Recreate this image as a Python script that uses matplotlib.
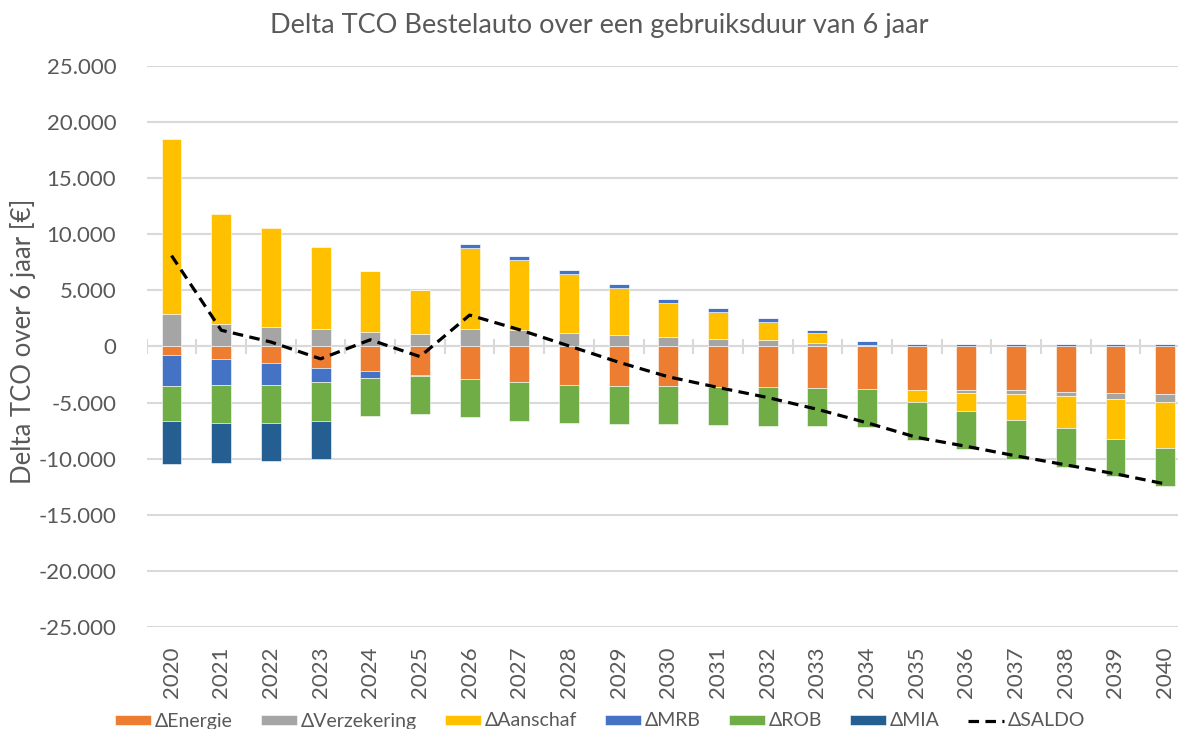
import numpy as np
import matplotlib
matplotlib.use('Agg')
import matplotlib.pyplot as plt
from matplotlib.ticker import FuncFormatter

plt.rcParams['font.family'] = ['Lato', 'DejaVu Sans']

years = [str(y) for y in range(2020, 2041)]

# Delta per kostenpost (EUR over 6 jaar)
energie = [-800, -1100, -1500, -1900, -2150, -2550, -2900, -3150, -3400, -3500, -3550,
           -3600, -3650, -3700, -3800, -3850, -3900, -3900, -4050, -4100, -4250]
verzekering = [2900, 2000, 1750, 1600, 1300, 1100, 1600, 1450, 1200, 1000, 850,
               700, 550, 300, 150, 0, -200, -350, -400, -550, -700]
aanschaf = [15600, 9850, 8850, 7300, 5450, 3950, 7150, 6250, 5250, 4200, 3050,
            2400, 1600, 900, 0, -1100, -1650, -2300, -2850, -3550, -4100]
mrb = [-2700, -2350, -1900, -1300, -700, -50, 400, 400, 400, 350, 350,
       300, 350, 300, 300, 200, 200, 200, 200, 200, 200]
rob = [-3100, -3350, -3400, -3400, -3350, -3450, -3400, -3450, -3400, -3400, -3400,
       -3400, -3450, -3400, -3400, -3350, -3400, -3450, -3450, -3350, -3400]
mia = [-3900, -3600, -3400, -3400, 0, 0, 0, 0, 0, 0, 0,
       0, 0, 0, 0, 0, 0, 0, 0, 0, 0]
saldo = [8100, 1450, 400, -1100, 600, -900, 2800, 1500, 50, -1400, -2700,
         -3650, -4550, -5600, -6800, -8100, -8900, -9750, -10550, -11350, -12250]

series = [
    ('ΔEnergie', energie, '#ED7D31'),
    ('ΔVerzekering', verzekering, '#A5A5A5'),
    ('ΔAanschaf', aanschaf, '#FFC000'),
    ('ΔMRB', mrb, '#4472C4'),
    ('ΔROB', rob, '#70AD47'),
    ('ΔMIA', mia, '#255E91'),
]

grey = '#595959'
fig = plt.figure(figsize=(11.78, 7.29), dpi=100)
ax = fig.add_axes([146.7 / 1178, 102 / 729, 1043.3 / 1178, 561 / 729])

x = np.arange(len(years))
pos_base = np.zeros(len(years))
neg_base = np.zeros(len(years))
for name, vals, col in series:
    v = np.array(vals, dtype=float)
    bottom = np.where(v >= 0, pos_base, neg_base)
    ax.bar(x, v, 0.4, bottom=bottom, color=col, label=name,
           edgecolor='white', linewidth=0.4, zorder=3)
    pos_base += np.clip(v, 0, None)
    neg_base += np.clip(v, None, 0)

ax.plot(x, saldo, color='black', lw=2.3, ls=(0, (3.3, 2)), label='ΔSALDO', zorder=4)

# horizontale as door nul met streepjes tussen de categorieen
ax.axhline(0, color='#d9d9d9', lw=1.5, zorder=2)
ax.vlines(np.arange(len(years) + 1) - 0.5, -650, 650, color='#d9d9d9', lw=1.5, zorder=2)

ax.set_xlim(-0.5, len(years) - 0.5)
ax.set_ylim(-25000, 25000)
ax.set_yticks(np.arange(-25000, 25001, 5000))
ax.yaxis.set_major_formatter(FuncFormatter(lambda v, p: '{:,.0f}'.format(v).replace(',', '.')))
ax.grid(axis='y', color='#d9d9d9', lw=1.5, zorder=0)
ax.set_xticks(x)
ax.set_xticklabels(years, rotation=90)
ax.tick_params(axis='both', length=0, labelsize=16, colors=grey)
ax.tick_params(axis='y', pad=22)
ax.tick_params(axis='x', pad=14)
for s in ax.spines.values():
    s.set_visible(False)

fig.text(599 / 1178, 1 - 25 / 729, 'Delta TCO Bestelauto over een gebruiksduur van 6 jaar',
         ha='center', va='center', fontsize=19.5, color=grey)
fig.text(23 / 1178, 1 - 341 / 729, 'Delta TCO over 6 jaar [€]', rotation=90,
         ha='center', va='center', fontsize=18.5, color=grey)

handles, labels = ax.get_legend_handles_labels()
handles = handles[1:] + handles[:1]
labels = labels[1:] + labels[:1]
fig.legend(handles, labels, loc='center', bbox_to_anchor=(600 / 1178, 1 - 721 / 729),
           ncol=7, frameon=False, fontsize=14, handlelength=1.85, handleheight=0.41,
           handletextpad=0.2, columnspacing=1.44, labelcolor=grey, borderpad=0)

fig.savefig('out.png', dpi=100)
